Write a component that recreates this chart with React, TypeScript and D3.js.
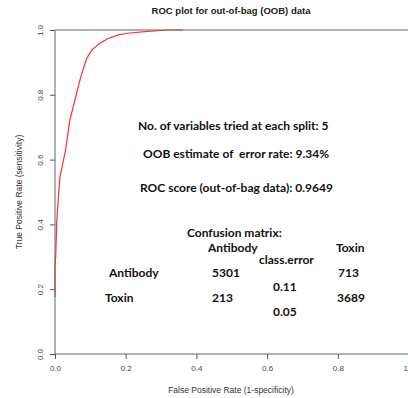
import * as React from "react";
import * as d3 from "d3";

// ROC curve
const fpr = [0, 0, 0.002, 0.005, 0.01, 0.014, 0.03, 0.042, 0.06, 0.074, 0.09, 0.104, 0.127, 0.15, 0.18, 0.206, 0.255, 0.316, 0.362];
const tpr = [0.176, 0.275, 0.3, 0.41, 0.49, 0.546, 0.63, 0.722, 0.8, 0.86, 0.913, 0.938, 0.959, 0.974, 0.985, 0.99, 0.995, 1.0, 1.0];

const xTicks = [0, 0.2, 0.4, 0.6, 0.8, 1.0];
const yTicks = [0, 0.2, 0.4, 0.6, 0.8, 1.0];

const mtry = 5;
const oobError = "9.34%";
const rocScore = "0.9649";

const classes = ["Antibody", "Toxin"];
const confusion = [[5301, 713], [213, 3689]];
const classError = ["0.11", "0.05"];

const W = 408, H = 398;
const left = 55, right = 408.5, top = 30, bottom = 354;
const axisFont = "'Liberation Sans', Arial, sans-serif";
const noteFont = "Lato, 'Open Sans', sans-serif";

export default function App() {
  const x = d3.scaleLinear().domain([0, 1]).range([left, right]);
  const y = d3.scaleLinear().domain([0, 1]).range([bottom, top]);
  const line = d3.line<number>().x((d) => x(d)).y((_, i) => y(tpr[i]));

  const xAxisRef = (g: SVGGElement | null) => {
    if (!g) return;
    const s = d3.select(g);
    s.call(d3.axisBottom(x).tickValues(xTicks).tickFormat(d3.format(".1f")).tickSize(5).tickSizeOuter(0).tickPadding(6));
    s.select(".domain").remove();
    s.selectAll("line").attr("stroke", "#555");
    s.selectAll("text").attr("fill", "#444").attr("font-size", 8).attr("font-family", axisFont);
  };
  const yAxisRef = (g: SVGGElement | null) => {
    if (!g) return;
    const s = d3.select(g);
    s.call(d3.axisLeft(y).tickValues(yTicks).tickFormat(d3.format(".1f")).tickSize(5).tickSizeOuter(0));
    s.select(".domain").remove();
    s.selectAll("line").attr("stroke", "#555");
    s.selectAll("text")
      .attr("fill", "#444").attr("font-size", 8).attr("font-family", axisFont)
      .attr("x", null).attr("dy", null)
      .attr("text-anchor", "middle")
      .attr("transform", "translate(-12,0) rotate(-90)");
  };

  const cm = { fontFamily: noteFont, fontWeight: 700, fontSize: 12, fill: "#111", style: { whiteSpace: "pre" } } as const;

  return (
    <svg width={W} height={H} style={{ position: "absolute", left: 0, top: 0, background: "#fff" }}>
      <text x={231} y={14} textAnchor="middle" fontFamily={axisFont} fontWeight="bold" fontSize={9.5} fill="#222">
        ROC plot for out-of-bag (OOB) data
      </text>
      <path d={line(fpr) || ""} fill="none" stroke="#ff3030" strokeWidth={1.2} />
      <line x1={left} x2={left} y1={top} y2={bottom} stroke="#666" />
      <line x1={left} x2={right} y1={top} y2={top} stroke="#666" />
      <line x1={left} x2={right} y1={bottom} y2={bottom} stroke="#666" />
      <g ref={xAxisRef} transform={`translate(0,${bottom})`} />
      <g ref={yAxisRef} transform={`translate(${left},0)`} />
      <text x={231} y={393} textAnchor="middle" fontFamily={axisFont} fontSize={8.5} fill="#333">
        False Positive Rate (1-specificity)
      </text>
      <text transform={`translate(22,${(top + bottom) / 2}) rotate(-90)`} textAnchor="middle" fontFamily={axisFont} fontSize={8.5} fill="#333">
        True Positive Rate (sensitivity)
      </text>

      <text x={138} y={130} {...cm}>{`No. of variables tried at each split: ${mtry}`}</text>
      <text x={143} y={158} {...cm}>{`OOB estimate of  error rate: ${oobError}`}</text>
      <text x={140} y={192} {...cm}>{`ROC score (out-of-bag data): ${rocScore}`}</text>

      <text x={187} y={237} {...cm}>Confusion matrix:</text>
      <text x={208} y={251.5} {...cm}>{classes[0]}</text>
      <text x={336} y={251.5} {...cm}>{classes[1]}</text>
      <text x={259} y={264} {...cm}>class.error</text>
      <text x={109} y={277} {...cm}>{classes[0]}</text>
      <text x={105} y={302} {...cm}>{classes[1]}</text>
      {confusion.map((row, i) => (
        <g key={i}>
          <text x={212} y={277 + i * 25} {...cm}>{row[0]}</text>
          <text x={338 - i} y={277 + i * 25} {...cm}>{row[1]}</text>
          <text x={273} y={291 + i * 25} {...cm}>{classError[i]}</text>
        </g>
      ))}
    </svg>
  );
}
